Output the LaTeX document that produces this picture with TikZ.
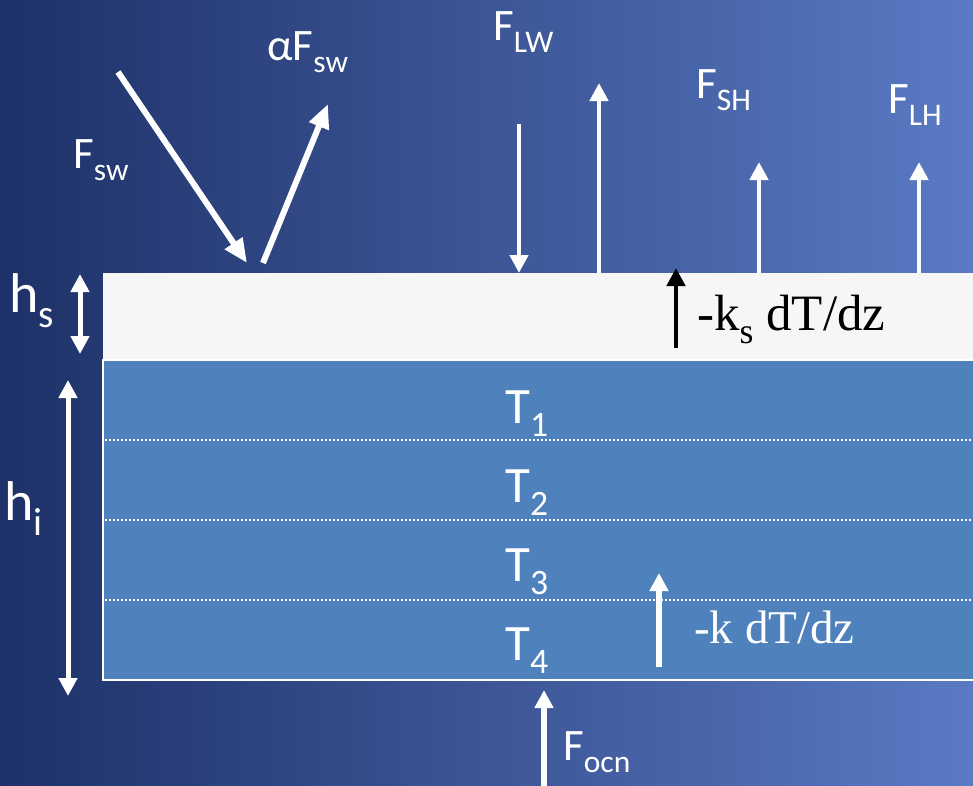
\documentclass[tikz,border=0pt]{standalone}
\usepackage{fontspec}
\usepackage{graphicx}
\setmainfont{Carlito}
\newfontfamily\timesfont{Liberation Serif}
\usetikzlibrary{arrows.meta,positioning}
\definecolor{bgdark}{RGB}{30,49,104}
\definecolor{bgmid}{RGB}{68,97,165}
\definecolor{bglight}{RGB}{90,122,196}
\definecolor{snowfill}{RGB}{246,246,246}
\definecolor{icefill}{RGB}{79,129,189}
\newcommand{\sub}[1]{\raisebox{-0.27em}{\scalebox{0.7}{#1}}}

\begin{document}
\begin{tikzpicture}[
  x=1pt, y=-1pt,
  flux/.style={text=white, inner sep=0pt, anchor=base west, font=\fontsize{45}{50}\selectfont},
  depth/.style={text=white, inner sep=0pt, anchor=base west, font=\fontsize{56}{60}\selectfont},
  temp/.style={text=white, inner sep=0pt, anchor=base west, font=\fontsize{51}{56}\selectfont},
  cond/.style={inner sep=0pt, anchor=base west, font=\timesfont\fontsize{47}{50}\selectfont},
  bigray/.style={white, line width=6pt, -{Triangle[width=20pt,length=24pt]}},
  ray/.style={white, line width=4.5pt, -{Triangle[width=18pt,length=18pt]}},
  span/.style={white, line width=5pt, {Triangle[width=18pt,length=18pt]}-{Triangle[width=18pt,length=18pt]}},
  layer/.style={white, line width=1.5pt, dash pattern=on 2pt off 2pt}
]
% background
\shade[left color=bgdark, middle color=bgmid, right color=bglight] (0,0) rectangle (973,785);
\useasboundingbox (0,0) rectangle (973,785);

% snow and ice
\fill[snowfill] (103,273) rectangle (973,360);
\draw[white, line width=2.5pt, fill=icefill] (103,360) rectangle (976,680);
\foreach \y in {440,520,600}
  \draw[layer] (105,\y) -- (973,\y);

% temperature levels
\foreach \k/\y in {1/423,2/502,3/581,4/660}
  \node[temp] (t\k) at (505,\y) {T\sub{\k}};

% thickness
\node[depth] (hs) at (9,312) {h\sub{s}};
\node[depth] (hi) at (4,520) {h\sub{i}};
\coordinate (hstop) at (80,274);
\coordinate (hsbot) at (80,354);
\coordinate (hitop) at (68,380);
\coordinate (hibot) at (68,696);
\draw[span] (hstop) -- (hsbot);
\draw[span] (hitop) -- (hibot);

% shortwave
\coordinate (swin) at (118,72);
\coordinate (swhit) at (247,263);
\coordinate (swup) at (263,263);
\coordinate (swout) at (328,104);
\draw[bigray] (swin) -- (swhit);
\draw[bigray] (swup) -- (swout);
\node[flux] (fsw) at (73,168) {F\sub{sw}};
\node[flux] (asw) at (267,60) {αF\sub{sw}};

% longwave, sensible, latent
\coordinate (lwin) at (519,124);
\coordinate (lwsurf) at (519,273);
\coordinate (lwbase) at (599,273);
\coordinate (lwout) at (599,83);
\coordinate (shbase) at (759,273);
\coordinate (shout) at (759,162);
\coordinate (lhbase) at (919,273);
\coordinate (lhout) at (919,162);
\draw[ray] (lwin) -- (lwsurf);
\draw[ray] (lwbase) -- (lwout);
\draw[ray] (shbase) -- (shout);
\draw[ray] (lhbase) -- (lhout);
\node[flux] (flw) at (493,40) {F\sub{LW}};
\node[flux] (fsh) at (696,98) {F\sub{SH}};
\node[flux] (flh) at (888,113) {F\sub{LH}};

% conduction
\coordinate (ksbot) at (676,348);
\coordinate (kstop) at (676,268);
\draw[ray, black] (ksbot) -- (kstop);
\node[cond, text=black, font=\timesfont\fontsize{51}{54}\selectfont] (ks) at (697,330) {-k\sub{s} dT/dz};
\coordinate (kibot) at (659,667);
\coordinate (kitop) at (659,573);
\draw[ray, line width=5.5pt] (kibot) -- (kitop);
\node[cond, text=white] (ki) at (694,643) {-k dT/dz};

% ocean
\coordinate (ocnbot) at (544,790);
\coordinate (ocntop) at (544,690);
\draw[ray, line width=5.5pt] (ocnbot) -- (ocntop);
\node[flux] (focn) at (563,760) {F\sub{ocn}};
\end{tikzpicture}
\end{document}
